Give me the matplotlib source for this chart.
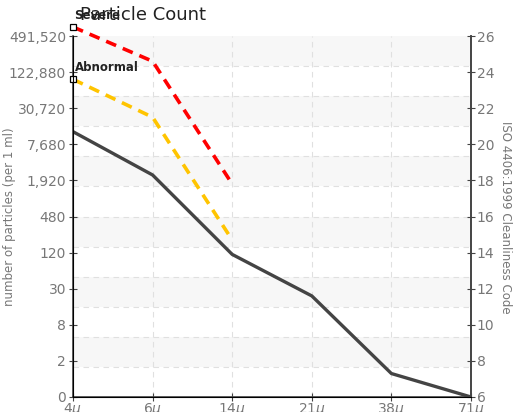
import numpy as np
import matplotlib
matplotlib.use("Agg")
import matplotlib.pyplot as plt

# --- data ---
sizes = ["4", "6", "14", "21", "38", "71"]
measured_iso = [20.7, 18.3, 13.9, 11.6, 7.3, 6.0]
abnormal_iso = [23.6, 21.5, 14.7]
severe_iso = [26.5, 24.6, 17.8]
iso_ticks = [6, 8, 10, 12, 14, 16, 18, 20, 22, 24, 26]
count_labels = ["0", "2", "8", "30", "120", "480", "1,920", "7,680",
                "30,720", "122,880", "491,520"]

plt.rcParams["font.family"] = ["Liberation Sans Narrow", "DejaVu Sans"]

fig = plt.figure(figsize=(5.16, 4.12), dpi=100)
ax = fig.add_axes([73 / 516, 1 - 397 / 412, 398 / 516, 361 / 412])
x = np.arange(len(sizes))

ax.set_xlim(0, len(sizes) - 1)
ax.set_ylim(6, 26)

# alternating bands + dashed grid
edges = np.linspace(6, 26, 13)
for i in range(12):
    if i % 2 == 1:
        ax.axhspan(edges[i], edges[i + 1], color="#f7f7f7", zorder=0, lw=0)
for e in edges[1:-1]:
    ax.axhline(e, color="#e0e0e0", lw=0.8, ls=(0, (5, 4)), zorder=1)
for xi in x[1:-1]:
    ax.axvline(xi, color="#e0e0e0", lw=0.8, ls=(0, (5, 4)), zorder=1)

# lines
ax.plot(x, measured_iso, color="#444444", lw=2.4, zorder=3, solid_capstyle="round")
ax.plot(x[:3], abnormal_iso, color="#FFC400", lw=2.6, ls=(0, (3, 2)), zorder=3,
        clip_on=False)
ax.plot(x[:3], severe_iso, color="#FF0000", lw=2.6, ls=(0, (3, 2)), zorder=3,
        clip_on=False)

# start markers and labels
for yv, name in [(severe_iso[0], "Severe"), (abnormal_iso[0], "Abnormal")]:
    ax.plot([0], [yv], marker="s", ms=4, mfc="white", mec="black", mew=0.9,
            zorder=5, clip_on=False)
    ax.text(0.02, yv + 0.3, name, fontsize=8.5, color="#222222", zorder=6,
            ha="left", va="bottom", fontweight="bold")

# axes styling
ax.spines["top"].set_visible(False)
for s in ["left", "right", "bottom"]:
    ax.spines[s].set_color("#444444")
    ax.spines[s].set_linewidth(1.2)

ax.set_yticks(iso_ticks)
ax.set_yticklabels(count_labels)
ax.tick_params(axis="y", direction="inout", length=6, colors="#444444",
               labelcolor="#777777", labelsize=10, pad=2)
ax.set_xticks(x)
ax.set_xticklabels([s + r"$\mu$" for s in sizes])
ax.tick_params(axis="x", direction="inout", length=6, colors="#444444",
               labelcolor="#777777", labelsize=10, pad=0)

ax2 = ax.twinx()
ax2.set_ylim(6, 26)
ax2.set_yticks(iso_ticks)
ax2.spines["top"].set_visible(False)
ax2.spines["right"].set_color("#444444")
ax2.spines["right"].set_linewidth(1.2)
ax2.tick_params(axis="y", direction="inout", length=6, colors="#444444",
                labelcolor="#777777", labelsize=10, pad=1)

fig.text(10 / 516, 1 - 217 / 412, "number of particles (per 1 ml)", rotation=90,
         ha="center", va="center", fontsize=8.5, color="#777777")
fig.text(505 / 516, 1 - 217 / 412, "ISO 4406:1999 Cleanliness Code", rotation=270,
         ha="center", va="center", fontsize=8.5, color="#777777")
fig.text(80 / 516, 1 - 15 / 412, "Particle Count", fontsize=13, color="#222222",
         ha="left", va="center", family="DejaVu Sans")

fig.savefig("out.png", dpi=100)
